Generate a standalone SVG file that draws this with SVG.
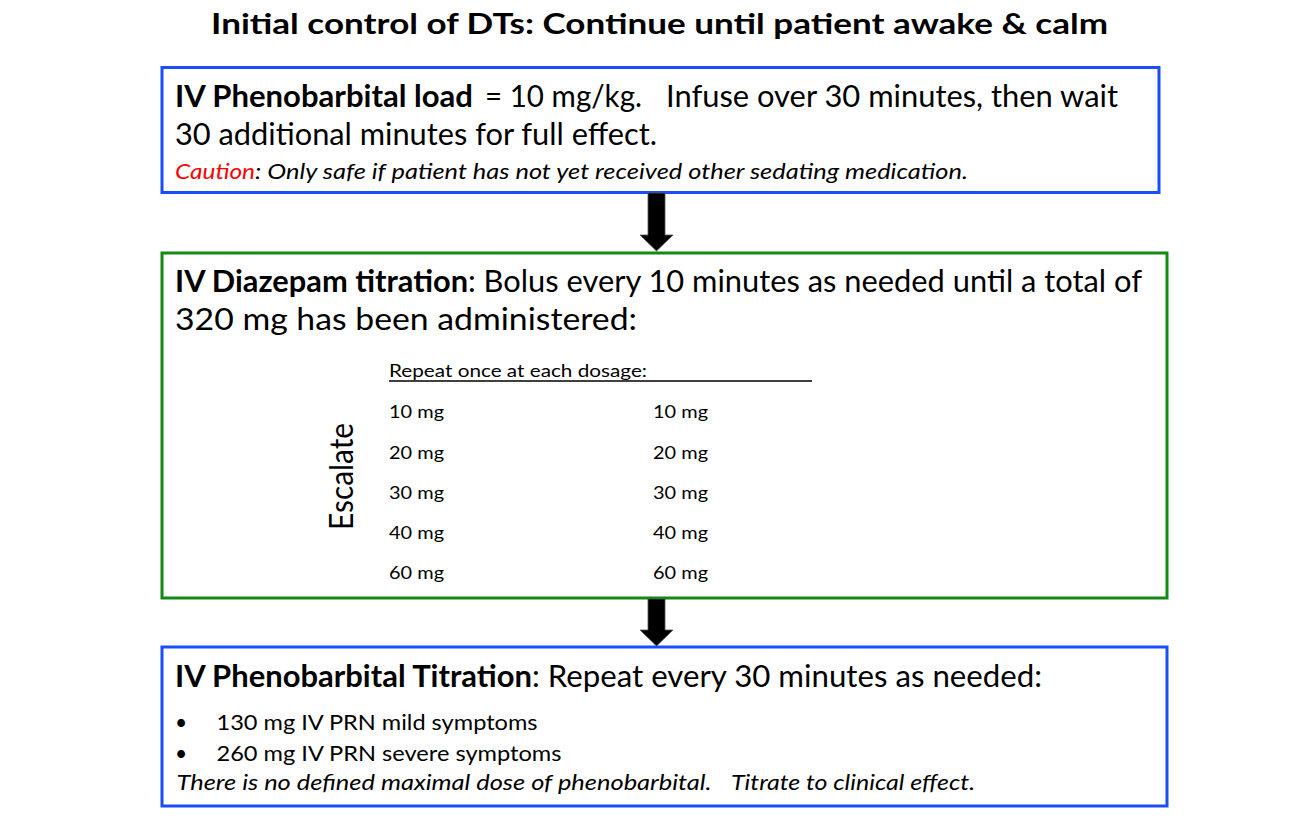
<svg xmlns="http://www.w3.org/2000/svg" width="1316" height="823" viewBox="0 0 1316 823">
<style>
text{font-family:Lato,"Open Sans","Liberation Sans",sans-serif;fill:#000}
.b{font-weight:bold}
.i{font-style:italic}
.blue{fill:none;stroke:#1a4dff;stroke-width:3}
.green{fill:none;stroke:#138a13;stroke-width:3}
.arr{fill:#000;stroke:#555;stroke-width:0.8}
.l{font-size:31px}
.s{font-size:21px}
.t{font-size:18px}
</style>
<rect width="1316" height="823" fill="#fff"/>
<text class="b" x="211" y="34" font-size="29" textLength="897" lengthAdjust="spacingAndGlyphs">Initial control of DTs:  Continue until patient awake &amp; calm</text>

<g id="node-load">
<rect class="blue" x="162" y="67.5" width="997" height="125"/>
<text class="l b" x="175" y="106.5" textLength="298" lengthAdjust="spacingAndGlyphs">IV Phenobarbital load</text>
<text class="l" x="485" y="106.5" textLength="157" lengthAdjust="spacingAndGlyphs">= 10 mg/kg.</text>
<text class="l" x="666" y="106.5" textLength="452" lengthAdjust="spacingAndGlyphs">Infuse over 30 minutes, then wait</text>
<text class="l" x="175" y="145" textLength="482" lengthAdjust="spacingAndGlyphs">30 additional minutes for full effect.</text>
<text class="s i" x="175" y="179" style="fill:#ff0000" textLength="80" lengthAdjust="spacingAndGlyphs">Caution</text>
<text class="s i" x="255" y="179" textLength="713" lengthAdjust="spacingAndGlyphs">: Only safe if patient has not yet received other sedating medication.</text>
</g>

<g id="node-diazepam">
<rect class="green" x="162" y="253" width="1005" height="345"/>
<text class="l b" x="175" y="291.5" textLength="293" lengthAdjust="spacingAndGlyphs">IV Diazepam titration</text>
<text class="l" x="468" y="291.5" textLength="674" lengthAdjust="spacingAndGlyphs">: Bolus every 10 minutes as needed until a total of</text>
<text class="l" x="175" y="330" textLength="462" lengthAdjust="spacingAndGlyphs">320 mg has been administered:</text>
<text class="t" x="389" y="377" textLength="258" lengthAdjust="spacingAndGlyphs">Repeat once at each dosage:</text>
<line x1="389" y1="381" x2="812" y2="381" stroke="#000" stroke-width="1.3"/>
<text x="0" y="0" font-size="32" transform="translate(353,530) rotate(-90)" textLength="107" lengthAdjust="spacingAndGlyphs">Escalate</text>
<g class="t">
<text x="389" y="418" textLength="55" lengthAdjust="spacingAndGlyphs">10 mg</text>
<text x="389" y="459" textLength="55" lengthAdjust="spacingAndGlyphs">20 mg</text>
<text x="389" y="499" textLength="55" lengthAdjust="spacingAndGlyphs">30 mg</text>
<text x="389" y="539" textLength="55" lengthAdjust="spacingAndGlyphs">40 mg</text>
<text x="389" y="579" textLength="55" lengthAdjust="spacingAndGlyphs">60 mg</text>
<text x="653" y="418" textLength="55" lengthAdjust="spacingAndGlyphs">10 mg</text>
<text x="653" y="459" textLength="55" lengthAdjust="spacingAndGlyphs">20 mg</text>
<text x="653" y="499" textLength="55" lengthAdjust="spacingAndGlyphs">30 mg</text>
<text x="653" y="539" textLength="55" lengthAdjust="spacingAndGlyphs">40 mg</text>
<text x="653" y="579" textLength="55" lengthAdjust="spacingAndGlyphs">60 mg</text>
</g>
</g>

<g id="node-titration">
<rect class="blue" x="162" y="647" width="1005" height="159"/>
<text class="l b" x="175" y="687" font-size="30" textLength="357" lengthAdjust="spacingAndGlyphs">IV Phenobarbital Titration</text>
<text class="l" x="532" y="687" font-size="30" textLength="510" lengthAdjust="spacingAndGlyphs">: Repeat every 30 minutes as needed:</text>
<text class="s" x="175" y="730">•</text>
<text class="s" x="216.5" y="730" textLength="321" lengthAdjust="spacingAndGlyphs">130 mg IV PRN mild symptoms</text>
<text class="s" x="175" y="761">•</text>
<text class="s" x="216.5" y="761" textLength="345" lengthAdjust="spacingAndGlyphs">260 mg IV PRN severe symptoms</text>
<text class="s i" x="176.5" y="790" textLength="535" lengthAdjust="spacingAndGlyphs">There is no defined maximal dose of phenobarbital.</text>
<text class="s i" x="731" y="790" textLength="244" lengthAdjust="spacingAndGlyphs">Titrate to clinical effect.</text>
</g>

<g id="connectors">
<polygon class="arr" points="648,193 665,193 665,235 673,235 656.5,251 640,235 648,235"/>
<polygon class="arr" points="648,599 665,599 665,630 673,630 656.5,646 640,630 648,630"/>
</g>
</svg>
